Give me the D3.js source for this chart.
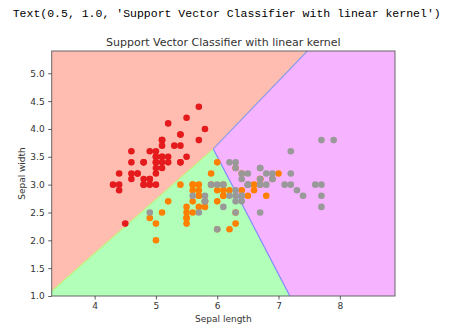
<!DOCTYPE html>
<html>
<head>
<meta charset="utf-8">
<script src="https://cdn.jsdelivr.net/npm/d3@7"></script>
<style>
  html, body { margin: 0; padding: 0; background: #fff; }
  svg { display: block; }
</style>
</head>
<body>
<svg id="chart" width="458" height="335"></svg>
<script>
// ---- data (Iris: sepal length, sepal width) ----
const setosaLength = [5.1,4.9,4.7,4.6,5.0,5.4,4.6,5.0,4.4,4.9,5.4,4.8,4.8,4.3,5.8,5.7,5.4,5.1,5.7,5.1,5.4,5.1,4.6,5.1,4.8,5.0,5.0,5.2,5.2,4.7,4.8,5.4,5.2,5.5,4.9,5.0,5.5,4.9,4.4,5.1,5.0,4.5,4.4,5.0,5.1,4.8,5.1,4.6,5.3,5.0];
const setosaWidth  = [3.5,3.0,3.2,3.1,3.6,3.9,3.4,3.4,2.9,3.1,3.7,3.4,3.0,3.0,4.0,4.4,3.9,3.5,3.8,3.8,3.4,3.7,3.6,3.3,3.4,3.0,3.4,3.5,3.4,3.2,3.1,3.4,4.1,4.2,3.1,3.2,3.5,3.6,3.0,3.4,3.5,2.3,3.2,3.5,3.8,3.0,3.8,3.2,3.7,3.3];
const versicolorLength = [7.0,6.4,6.9,5.5,6.5,5.7,6.3,4.9,6.6,5.2,5.0,5.9,6.0,6.1,5.6,6.7,5.6,5.8,6.2,5.6,5.9,6.1,6.3,6.1,6.4,6.6,6.8,6.7,6.0,5.7,5.5,5.5,5.8,6.0,5.4,6.0,6.7,6.3,5.6,5.5,5.5,6.1,5.8,5.0,5.6,5.7,5.7,6.2,5.1,5.7];
const versicolorWidth  = [3.2,3.2,3.1,2.3,2.8,2.8,3.3,2.4,2.9,2.7,2.0,3.0,2.2,2.9,2.9,3.1,3.0,2.7,2.2,2.5,3.2,2.8,2.5,2.8,2.9,3.0,2.8,3.0,2.9,2.6,2.4,2.4,2.7,2.7,3.0,3.4,3.1,2.3,3.0,2.5,2.6,3.0,2.6,2.3,2.7,3.0,2.9,2.9,2.5,2.8];
const virginicaLength = [6.3,5.8,7.1,6.3,6.5,7.6,4.9,7.3,6.7,7.2,6.5,6.4,6.8,5.7,5.8,6.4,6.5,7.7,7.7,6.0,6.9,5.6,7.7,6.3,6.7,7.2,6.2,6.1,6.4,7.2,7.4,7.9,6.4,6.3,6.1,7.7,6.3,6.4,6.0,6.9,6.7,6.9,5.8,6.8,6.7,6.7,6.3,6.5,6.2,5.9];
const virginicaWidth  = [3.3,2.7,3.0,2.9,3.0,3.0,2.5,2.9,2.5,3.6,3.2,2.7,3.0,2.5,2.8,3.2,3.0,3.8,2.6,2.2,3.2,2.8,2.8,2.7,3.3,3.2,2.8,3.0,2.8,3.0,2.8,3.8,2.8,2.8,2.6,3.0,3.4,3.1,3.0,3.1,3.1,3.1,2.7,3.2,3.3,3.0,2.5,3.0,3.4,3.0];

// decision-region boundary points (data units)
const apex = [5.936, 3.642];          // where the three regions meet
const redGreenLeft = [3.3, 1.09];     // red/green boundary at left edge
const redPinkTop = [7.47, 5.4];       // red/pink boundary at top edge
const greenPinkBottom = [7.185, 1.0]; // green/pink boundary at bottom edge

const xDomain = [3.3, 8.9];
const yDomain = [1.0, 5.4];
const xTicks = [4, 5, 6, 7, 8];
const yTicks = [1.0, 1.5, 2.0, 2.5, 3.0, 3.5, 4.0, 4.5, 5.0];

const classColors = ["#e41a1c", "#ff7f00", "#999999"];
const regionColors = ["#ffbdb2", "#b1ffb8", "#f6b3ff"];

// ---- layout ----
const L = 51.7, R = 395, T = 51, B = 296;
const svg = d3.select("#chart");
const x = d3.scaleLinear().domain(xDomain).range([L, R]);
const y = d3.scaleLinear().domain(yDomain).range([B, T]);

// top output text
svg.append("text")
  .attr("x", 12.7).attr("y", 16.5)
  .attr("font-family", "'Liberation Mono', 'DejaVu Sans Mono', monospace")
  .attr("font-size", "11.5px")
  .attr("textLength", 428)
  .attr("lengthAdjust", "spacingAndGlyphs")
  .attr("fill", "#000")
  .text("Text(0.5, 1.0, 'Support Vector Classifier with linear kernel')");

// regions
const x0 = xDomain[0], x1 = xDomain[1], y0 = yDomain[0], y1 = yDomain[1];
const regions = [
  [[x0, y1], [x0, redGreenLeft[1]], apex, redPinkTop],
  [[x0, y0], [x0, redGreenLeft[1]], apex, greenPinkBottom],
  [apex, redPinkTop, [x1, y1], [x1, y0], greenPinkBottom]
];
const line = d3.line().x(d => x(d[0])).y(d => y(d[1]));
svg.append("g").selectAll("path").data(regions).join("path")
  .attr("d", d => line(d) + "Z")
  .attr("fill", (d, i) => regionColors[i]);

// boundary edges
const edges = [
  {pts: [redGreenLeft, apex], color: "#c6f07a"},
  {pts: [apex, redPinkTop], color: "#8c9be8"},
  {pts: [apex, greenPinkBottom], color: "#7c86ff"}
];
svg.append("g").selectAll("path").data(edges).join("path")
  .attr("d", d => line(d.pts))
  .attr("fill", "none")
  .attr("stroke", d => d.color)
  .attr("stroke-width", 1.1);

// points
const pts = [];
setosaLength.forEach((v, i) => pts.push({x: v, y: setosaWidth[i], c: 0}));
versicolorLength.forEach((v, i) => pts.push({x: v, y: versicolorWidth[i], c: 1}));
virginicaLength.forEach((v, i) => pts.push({x: v, y: virginicaWidth[i], c: 2}));
svg.append("g").selectAll("circle").data(pts).join("circle")
  .attr("cx", d => x(d.x)).attr("cy", d => y(d.y))
  .attr("r", 3.3)
  .attr("fill", d => classColors[d.c]);

// frame
svg.append("rect")
  .attr("x", L).attr("y", T).attr("width", R - L).attr("height", B - T)
  .attr("fill", "none").attr("stroke", "#666").attr("stroke-width", 1);

// axes
const fontFam = "'DejaVu Sans', sans-serif";
const xAxis = svg.append("g").attr("transform", `translate(0,${B})`)
  .call(d3.axisBottom(x).tickValues(xTicks).tickFormat(d3.format("d")).tickSize(3.5).tickPadding(3.5));
const yAxis = svg.append("g").attr("transform", `translate(${L},0)`)
  .call(d3.axisLeft(y).tickValues(yTicks).tickFormat(d3.format(".1f")).tickSize(3.5).tickPadding(3.5));
[xAxis, yAxis].forEach(a => {
  a.select(".domain").remove();
  a.selectAll(".tick line").attr("stroke", "#333").attr("stroke-width", 0.8);
  a.selectAll(".tick text").attr("font-family", fontFam).attr("font-size", "9px").attr("fill", "#333");
});

// labels
svg.append("text")
  .attr("x", (L + R) / 2).attr("y", 321.5)
  .attr("text-anchor", "middle")
  .attr("font-family", fontFam).attr("font-size", "9px").attr("fill", "#333")
  .text("Sepal length");
svg.append("text")
  .attr("transform", `translate(24.5,${(T + B) / 2}) rotate(-90)`)
  .attr("text-anchor", "middle")
  .attr("font-family", fontFam).attr("font-size", "9px").attr("fill", "#333")
  .text("Sepal width");
svg.append("text")
  .attr("x", (L + R) / 2).attr("y", 45.5)
  .attr("text-anchor", "middle")
  .attr("font-family", fontFam).attr("font-size", "11px").attr("fill", "#333")
  .text("Support Vector Classifier with linear kernel");
</script>
</body>
</html>
